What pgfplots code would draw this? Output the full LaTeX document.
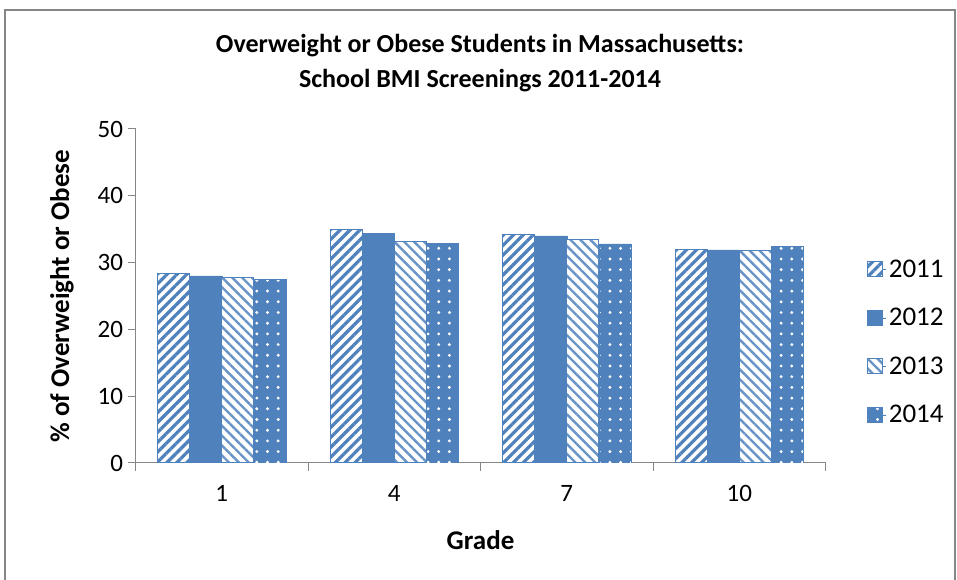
\documentclass[border=0pt]{standalone}
\usepackage{pgfplots}
\pgfplotsset{compat=1.18}
\usetikzlibrary{patterns.meta}
\usepackage{fontspec}
\setmainfont{Carlito}
\definecolor{barblue}{HTML}{4F81BD}
\definecolor{axgray}{HTML}{868686}
\begin{document}
\begin{tikzpicture}[x=1bp,y=1bp]
\path[use as bounding box] (0,0) rectangle (957,580);
\draw[axgray, line width=1.2bp] (5,-5) rectangle (955,570);
\node[font=\fontsize{26bp}{35bp}\selectfont\bfseries, align=center] at (480,517) {Overweight or Obese Students in Massachusetts:\\School BMI Screenings 2011-2014};
\begin{axis}[
  at={(135.5bp,117bp)}, anchor=south west,
  scale only axis, width=690bp, height=334bp,
  ymin=0, ymax=50, ytick={0,10,...,50},
  xmin=-0.5, xmax=3.5,
  xtick={0,1,2,3}, xticklabels={1,4,7,10},
  major tick length=8bp,
  major x tick style={draw=none},
  extra x ticks={-0.5,0.5,1.5,2.5,3.5}, extra x tick labels={},
  extra x tick style={major x tick style={draw=axgray, line width=1bp}},
  axis lines*=left,
  axis line style={axgray, line width=1bp},
  tick style={axgray, line width=1bp},
  tick align=outside,
  ticklabel style={font=\fontsize{25bp}{28bp}\selectfont},
  /pgf/number format/assume math mode=true,
  yticklabel style={xshift=-1bp},
  xticklabel style={yshift=-11bp},
  xlabel={Grade}, ylabel={\% of Overweight or Obese},
  label style={font=\fontsize{27bp}{30bp}\selectfont\bfseries},
  xlabel style={at={([yshift=-77bp]axis description cs:0.5,0)}, anchor=center},
  ylabel style={at={([xshift=-73.5bp]axis description cs:0,0.5)}, anchor=center},
  ybar=0pt, bar width=32bp,
  legend style={at={(axis description cs:1.055,0.362)}, anchor=west, draw=none, fill=none,
    font=\fontsize{27bp}{30bp}\selectfont, row sep=25.5bp},
  legend cell align=left,
  legend image code/.code={\path (0bp,0bp) -- (19bp,0bp); \draw[#1] (0bp,-7.5bp) rectangle (15bp,7.5bp);},
]
\addplot[draw=barblue, line width=1.2bp, fill=white, postaction={pattern={Lines[angle=45,distance=7bp,line width=3.2bp]}, pattern color=barblue}]
  coordinates {(0,28.4) (1,34.9) (2,34.2) (3,32.0)};
\addplot[draw=barblue, line width=0.5bp, fill=barblue]
  coordinates {(0,28.0) (1,34.4) (2,34.0) (3,31.9)};
\addplot[draw=barblue, line width=1.2bp, fill=white, postaction={pattern={Lines[angle=-45,distance=7bp,line width=2.4bp]}, pattern color=barblue!85}]
  coordinates {(0,27.8) (1,33.2) (2,33.4) (3,31.8)};
\addplot[draw=barblue, line width=0.5bp, fill=barblue, postaction={pattern={Dots[distance=10.7bp,radius=1.6bp]}, pattern color=white}]
  coordinates {(0,27.5) (1,32.9) (2,32.8) (3,32.4)};
\legend{2011,2012,2013,2014}
\end{axis}
\end{tikzpicture}
\end{document}
